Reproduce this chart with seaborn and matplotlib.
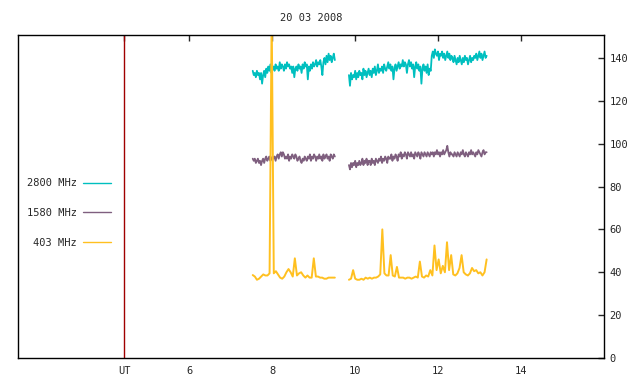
import numpy as np
import pandas as pd
import matplotlib
matplotlib.use("Agg")
import matplotlib.pyplot as plt
from matplotlib.lines import Line2D
import seaborn as sns

# Datos (UT en horas)
titulo = "20 03 2008"
ut_marca = 4.43
tramo_a = (7.53, 9.51)
tramo_b = (9.85, 13.17)

f2800_a = [134, 132, 133, 131, 134, 132, 133, 130, 133, 128, 132, 134, 131, 135, 133, 136, 134, 137, 133, 135,
           136, 134, 137, 135, 136, 134, 138, 135, 137, 136, 134, 137, 135, 138, 136, 137, 135, 136, 133, 136,
           131, 135, 136, 134, 137, 135, 136, 133, 137, 135, 138, 136, 137, 130, 136, 134, 137, 135, 138, 136,
           137, 139, 136, 138, 137, 139, 136, 132, 138, 140, 137, 141, 138, 142, 139, 141, 138, 140, 142, 139]
f2800_b = [132, 127, 133, 130, 132, 131, 134, 130, 133, 131, 134, 132, 133, 130, 135, 132, 134, 131, 133, 135,
           132, 134, 131, 135, 133, 136, 132, 134, 137, 133, 135, 134, 136, 133, 137, 135, 134, 136, 138, 135,
           137, 134, 136, 130, 135, 137, 134, 136, 138, 135, 137, 136, 139, 136, 138, 137, 133, 137, 139, 136,
           138, 135, 137, 131, 136, 138, 135, 137, 134, 136, 128, 135, 137, 134, 136, 133, 137, 132, 135, 134,
           141, 143, 140, 144, 142, 141, 143, 139, 142, 141, 143, 140, 142, 139, 141, 143, 140, 142, 139, 141,
           140, 138, 141, 139, 137, 140, 138, 141, 139, 137, 140, 138, 141, 139, 140, 137, 139, 141, 138, 140,
           139, 141, 140, 142, 139, 141, 143, 140, 142, 139, 141, 143, 140, 141]

f1580_a = [93, 92, 93, 91, 92, 93, 91, 92, 90, 92, 93, 91, 93, 94, 92, 93, 94, 92, 93, 94,
           93, 94, 92, 94, 95, 93, 95, 96, 94, 96, 95, 93, 94, 93, 95, 92, 94, 93, 95, 94,
           93, 95, 94, 92, 93, 94, 92, 91, 93, 92, 94, 93, 92, 94, 93, 95, 92, 94, 93, 95,
           94, 92, 94, 93, 95, 93, 94, 92, 95, 93, 94, 95, 93, 94, 92, 95, 94, 93, 95, 94]
f1580_b = [90, 88, 91, 89, 91, 90, 92, 89, 91, 90, 92, 90, 91, 93, 90, 92, 91, 93, 90, 92,
           92, 90, 93, 91, 92, 90, 93, 92, 91, 93, 92, 94, 91, 93, 92, 94, 93, 91, 94, 93,
           93, 95, 92, 94, 93, 95, 94, 92, 95, 94, 96, 93, 95, 94, 96, 95, 93, 96, 95, 94,
           96, 94, 95, 93, 96, 95, 94, 96, 95, 93, 96, 95, 94, 96, 95, 94, 96, 95, 94, 96,
           95, 96, 94, 96, 95, 97, 95, 96, 94, 96, 95, 97, 95, 96, 97, 99, 96, 94, 96, 95,
           95, 94, 96, 95, 94, 96, 95, 94, 96, 95, 97, 95, 94, 96, 95, 94, 96, 95, 97, 95,
           96, 95, 94, 96, 95, 97, 96, 95, 94, 96, 97, 95, 96, 96]

f403_a = [38.7, 38, 36.5, 37, 38, 39, 38.5, 38.5, 39.5, 160, 39.5, 40.5, 39, 37.5, 37, 38, 40, 41.5, 40, 38,
          46.5, 38.5, 39.5, 40, 38.5, 37.5, 38.5, 37.5, 37.5, 46.5, 38, 38, 37.5, 37.5, 37, 37, 37.5, 37.5, 37.5, 37.5]
f403_b = [36.5, 37, 41, 37, 36.5, 36.5, 37, 36.5, 37.5, 37, 37.5, 37, 37.5, 37.5, 38, 39, 60, 39.5, 38.5, 38.5,
          48, 38.5, 38, 42.5, 37.5, 37.5, 37.5, 37, 37.5, 37.5, 37, 37.5, 38, 37.5, 45, 38, 37.5, 38.5, 38, 41,
          38.5, 52.5, 41, 46, 39.5, 43, 40, 54, 41, 48, 39, 38.5, 39.5, 42, 48, 40, 39, 38.5, 39.5, 42,
          40.5, 41, 39.5, 40, 38.5, 40, 46]

series = [
    ("2800 MHz", "#00bfbf", 1.3, f2800_a, f2800_b),
    ("1580 MHz", "#7f5f7f", 1.3, f1580_a, f1580_b),
    ("403 MHz", "#ffc020", 1.4, f403_a, f403_b),
]

sns.set_style("white")
plt.rcParams["font.family"] = ["DejaVu Sans Mono"]
plt.rcParams["font.size"] = 7.5

fig = plt.figure(figsize=(6.4, 3.84), dpi=100)
ax = fig.add_axes([18 / 640, 26 / 384, 586 / 640, 323 / 384])

for nombre, color, ancho, va, vb in series:
    ta = np.linspace(tramo_a[0], tramo_a[1], len(va))
    tb = np.linspace(tramo_b[0], tramo_b[1], len(vb))
    sns.lineplot(x=ta, y=va, color=color, lw=ancho, ax=ax)
    sns.lineplot(x=tb, y=vb, color=color, lw=ancho, ax=ax)

ax.axvline(ut_marca, color="#a00000", lw=1)

ax.set_xlim(1.87, 16.0)
ax.set_ylim(0, 150.7)
ax.set_xlabel("")
ax.set_ylabel("")
ax.set_xticks([ut_marca, 6, 8, 10, 12, 14])
ax.set_xticklabels(["UT", "6", "8", "10", "12", "14"])
ax.set_yticks(range(0, 141, 20))
ax.yaxis.tick_right()
ax.tick_params(axis="x", direction="in", top=True, length=4, width=1, pad=6)
ax.tick_params(axis="y", direction="in", left=False, right=True, length=4, width=1, pad=4)
for s in ax.spines.values():
    s.set_color("black")
    s.set_linewidth(1)
ax.set_title(titulo, pad=10, fontsize=7.5)

proxies = [Line2D([], [], color=s[1], lw=1) for s in series]
ax.legend(proxies, [s[0] for s in series], loc="center left",
          bbox_to_anchor=(9 / 586, 145 / 323), frameon=False,
          markerfirst=False, labelspacing=1.9, handlelength=2.7, handletextpad=0.6,
          borderpad=0, borderaxespad=0)

fig.savefig("out.png", dpi=100)
